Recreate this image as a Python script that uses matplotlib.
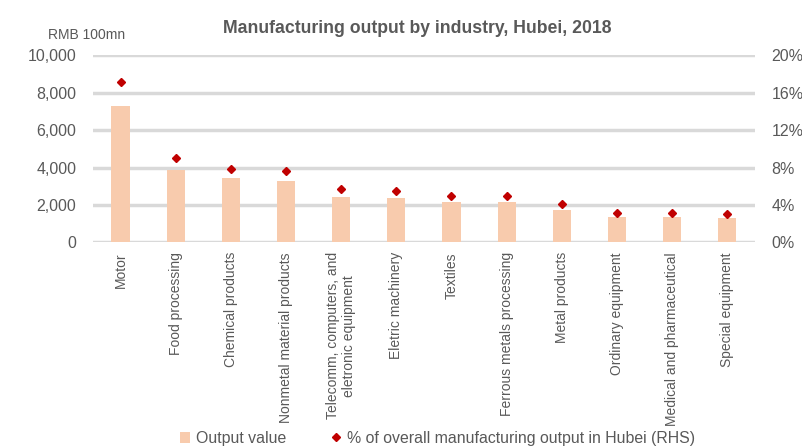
import numpy as np
import matplotlib
matplotlib.use('Agg')
import matplotlib.pyplot as plt
from matplotlib.ticker import FuncFormatter

plt.rcParams['font.family'] = ['Liberation Sans', 'DejaVu Sans']

categories = ['Motor', 'Food processing', 'Chemical products', 'Nonmetal material products',
              'Telecomm, computers, and\neletronic equipment', 'Eletric machinery', 'Textiles',
              'Ferrous metals processing', 'Metal products', 'Ordinary equipment',
              'Medical and pharmaceutical', 'Special equipment']
output_value = [7300, 3850, 3420, 3260, 2400, 2350, 2150, 2150, 1710, 1340, 1340, 1280]
share_pct = [17.1, 9.0, 7.9, 7.6, 5.7, 5.5, 5.0, 5.0, 4.1, 3.1, 3.1, 3.0]

txt = '#595959'
bar_col = '#f8cbad'
dot_col = '#c00000'

fig = plt.figure(figsize=(8.03, 4.48), dpi=100)
ax = fig.add_axes([0.1158, 0.459, 0.8242, 0.4174])
x = np.arange(len(categories))

ax.bar(x, output_value, width=0.33, color=bar_col, zorder=2, label='Output value')
ax.set_ylim(0, 10000)
ax.set_yticks(np.arange(0, 10001, 2000))
ax.yaxis.set_major_formatter(FuncFormatter(lambda v, p: f'{int(v):,}'))
ax.set_xlim(-0.5, len(categories) - 0.5)
ax.grid(axis='y', color='#d9d9d9', linewidth=2.5, zorder=0)
ax.set_axisbelow(True)
ax.set_xticks(x)
ax.set_xticklabels(categories, rotation=90, va='top', ha='center', fontsize=10,
                   color=txt, linespacing=1.15)
ax.tick_params(axis='x', length=0, pad=7)
ax.tick_params(axis='y', length=0, pad=12, labelsize=11.5, labelcolor=txt)
for s in ax.spines.values():
    s.set_visible(False)

ax2 = ax.twinx()
ax2.plot(x, np.array(share_pct) / 100, linestyle='none', marker='D', markersize=4.5,
         color=dot_col, zorder=3, label='% of overall manufacturing output in Hubei (RHS)')
ax2.set_ylim(0, 0.2)
ax2.set_yticks(np.arange(0, 0.2001, 0.04))
ax2.yaxis.set_major_formatter(FuncFormatter(lambda v, p: f'{v*100:.0f}%'))
ax2.tick_params(axis='y', length=0, pad=12, labelsize=11.5, labelcolor=txt)
for s in ax2.spines.values():
    s.set_visible(False)

fig.text(0.52, 0.937, 'Manufacturing output by industry, Hubei, 2018', ha='center',
         va='center', fontsize=12.7, fontweight='bold', color=txt)
fig.text(0.06, 0.922, 'RMB 100mn', ha='left', va='center', fontsize=10, color=txt)

h1, l1 = ax.get_legend_handles_labels()
h2, l2 = ax2.get_legend_handles_labels()
fig.legend(h1 + h2, l1 + l2, loc='center', bbox_to_anchor=(0.545, 0.022), ncol=2,
           frameon=False, fontsize=11.4, labelcolor=txt, handlelength=0.6,
           handletextpad=0.4, columnspacing=2.8, borderaxespad=0, markerscale=0.8)

fig.savefig('out.png', dpi=100)
